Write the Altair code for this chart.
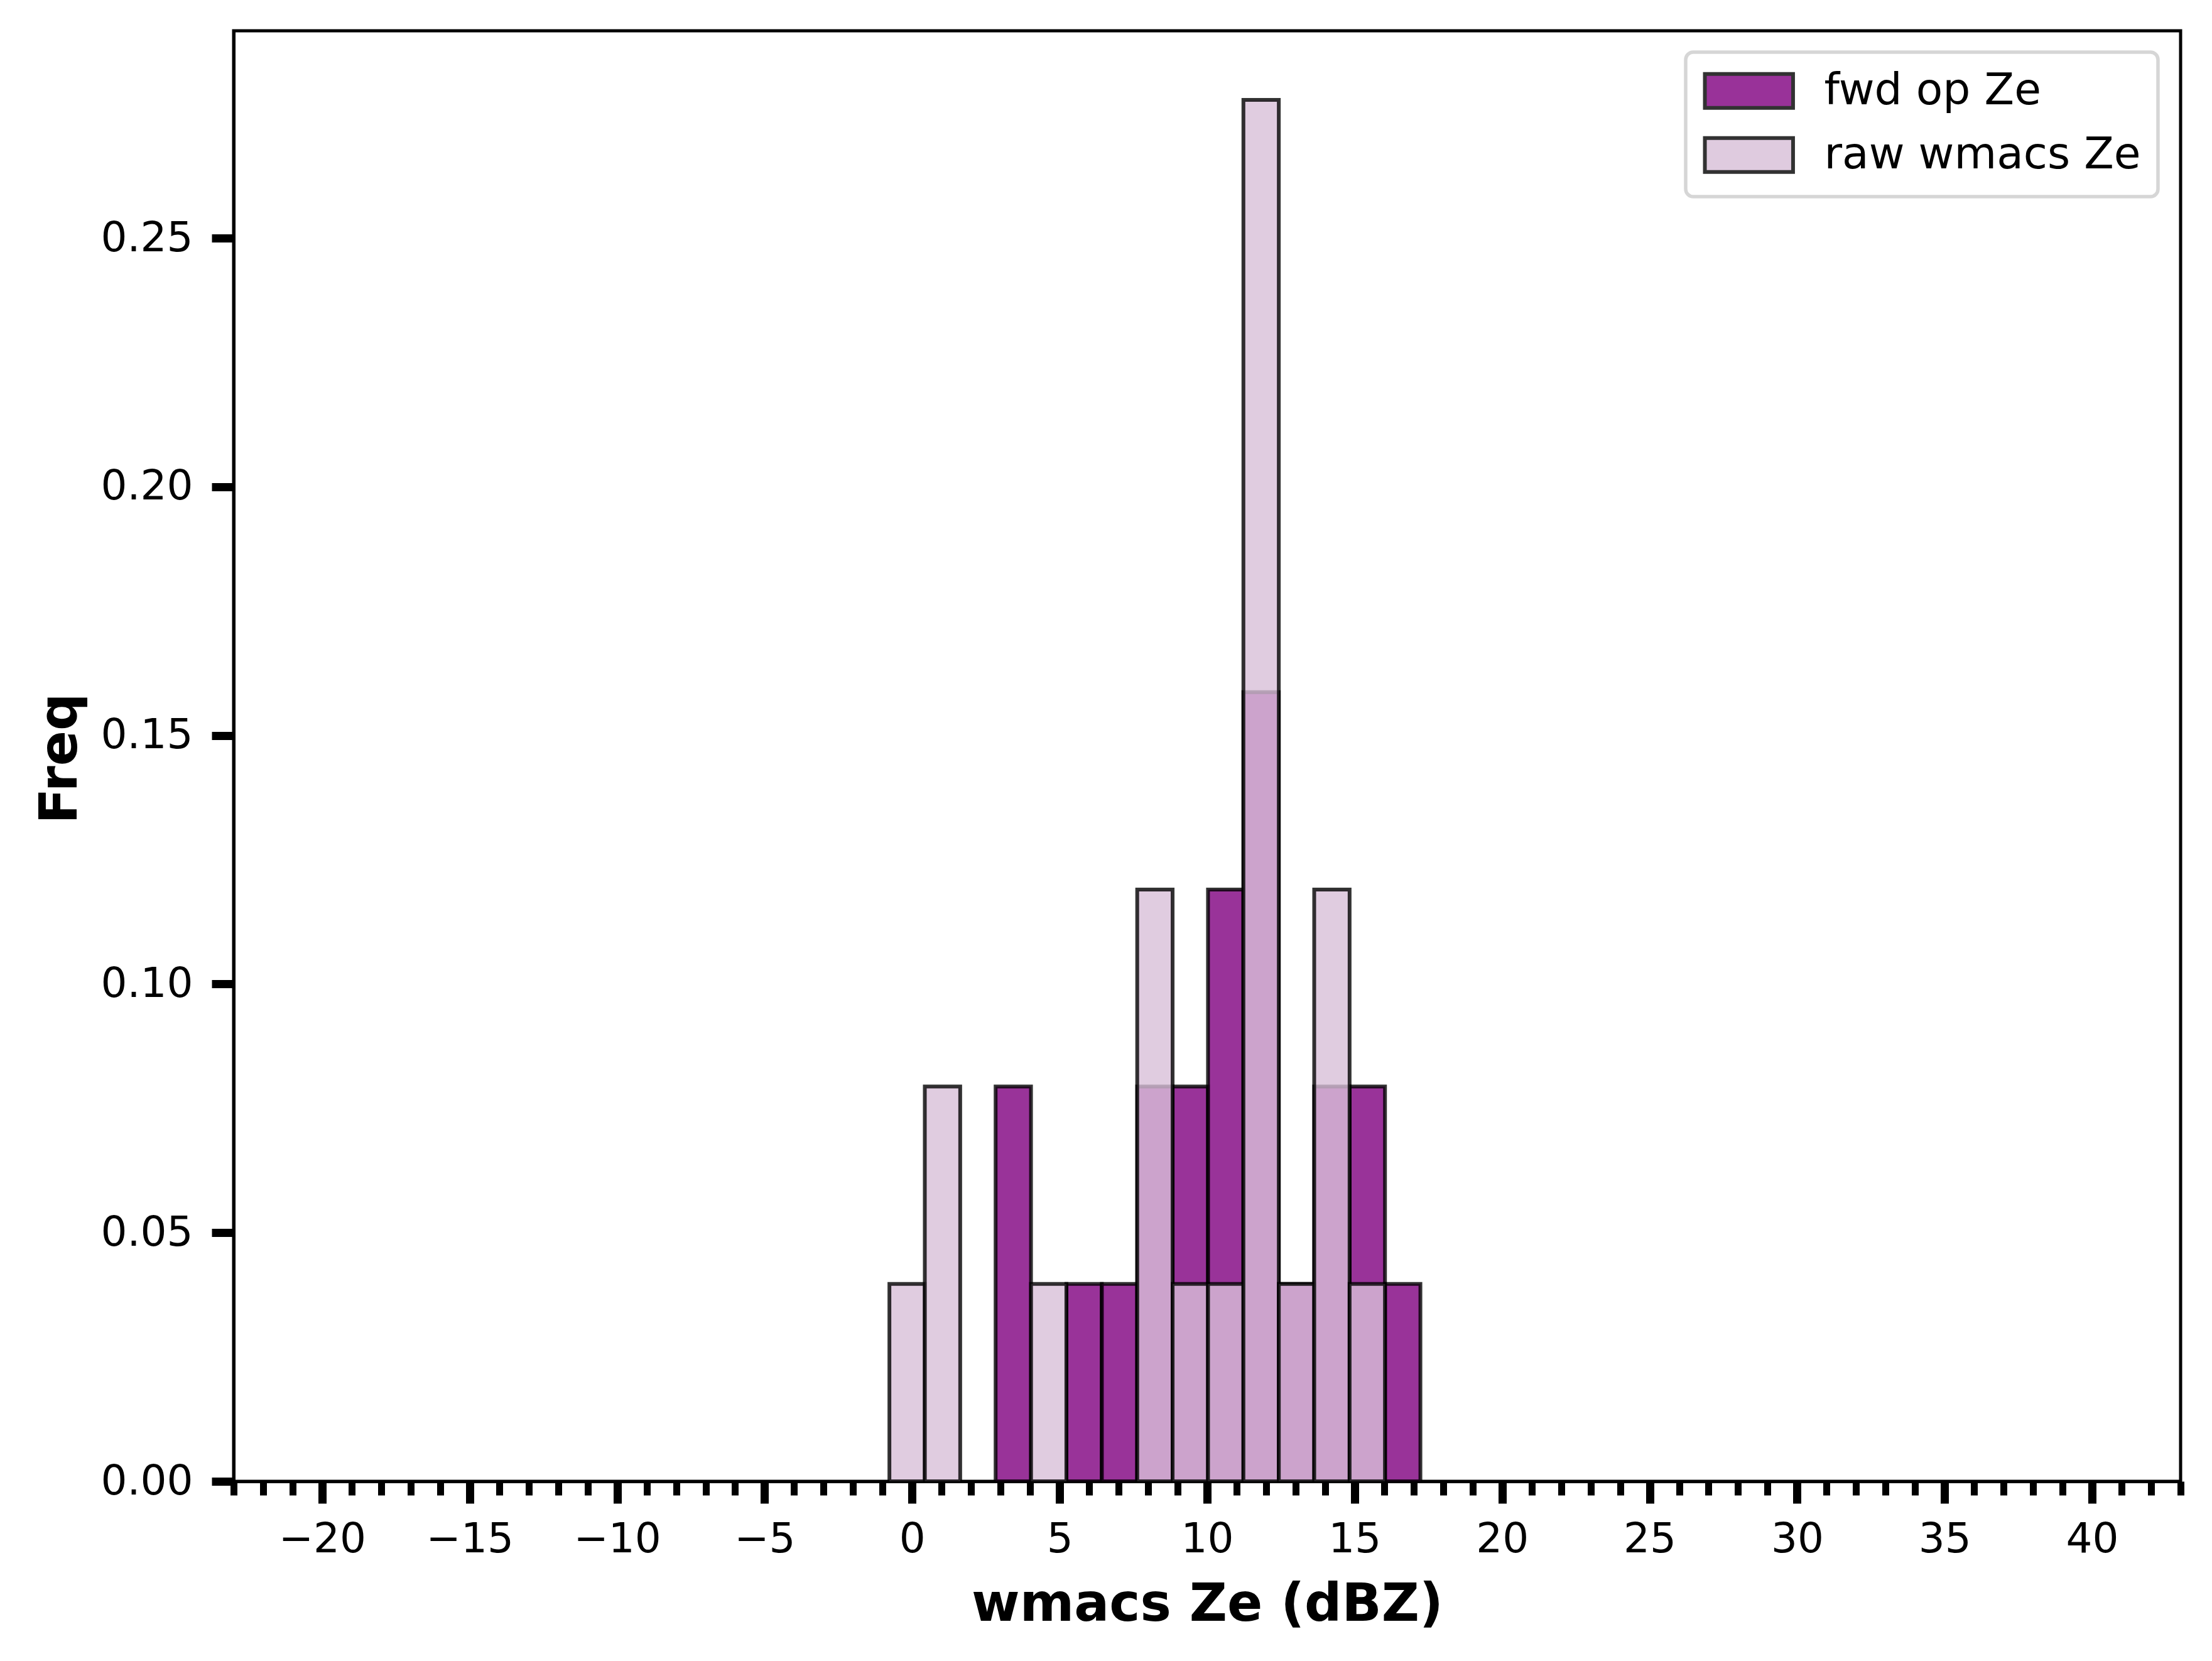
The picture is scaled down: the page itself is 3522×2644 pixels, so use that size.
import altair as alt
import pandas as pd

# ---- data (density histogram, 15 bins) ----
bin_edges = [-0.77, 0.43, 1.63, 2.83, 4.03, 5.23, 6.43, 7.63, 8.83,
             10.03, 11.23, 12.43, 13.63, 14.83, 16.03, 17.23]
fwd_freq = [0.0, 0.0, 0.0, 0.0794, 0.0, 0.0397, 0.0397, 0.0794, 0.0794,
            0.1190, 0.1587, 0.0397, 0.0794, 0.0794, 0.0397]
raw_freq = [0.0397, 0.0794, 0.0, 0.0, 0.0397, 0.0, 0.0, 0.1190, 0.0397,
            0.0397, 0.2778, 0.0397, 0.1190, 0.0397, 0.0]
series_names = ["fwd op Ze", "raw wmacs Ze"]
series_colors = ["#800080", "#D8BFD8"]
x_major_ticks = [-20, -15, -10, -5, 0, 5, 10, 15, 20, 25, 30, 35, 40]
x_minor_ticks = list(range(-23, 44))
y_ticks = [0.0, 0.05, 0.10, 0.15, 0.20, 0.25]
x_domain = [-23, 43]
y_domain = [0, 0.2917]


def rows(freqs, name):
    out = []
    for i, f in enumerate(freqs):
        if f > 0:
            out.append({"x0": bin_edges[i], "x1": bin_edges[i + 1],
                        "freq": f, "series": name})
    return out


fwd_df = pd.DataFrame(rows(fwd_freq, series_names[0]))
raw_df = pd.DataFrame(rows(raw_freq, series_names[1]))
minor_df = pd.DataFrame({"v": x_minor_ticks})

FONT = "DejaVu Sans"
xscale = alt.Scale(domain=x_domain, nice=False, zero=False)
yscale = alt.Scale(domain=y_domain, nice=False)
color_scale = alt.Scale(domain=series_names, range=series_colors)

x_axis = alt.Axis(values=x_major_ticks, format="d", tickSize=35, tickWidth=13,
                  tickColor="black", labelFontSize=66, labelColor="black",
                  labelPadding=25, labelFlush=False, labelOverlap=False,
                  domainColor="black", domainWidth=5, grid=False,
                  title="wmacs Ze (dBZ)", titleFontSize=83, titleFontWeight="bold",
                  titleColor="black", titleY=196, titleBaseline="middle",
                  orient="bottom")
y_axis = alt.Axis(values=y_ticks, format=".2f", tickSize=35, tickWidth=13,
                  tickColor="black", labelFontSize=66, labelColor="black",
                  labelPadding=30, domainColor="black", domainWidth=5, grid=False,
                  title="Freq", titleFontSize=83, titleFontWeight="bold",
                  titleColor="black", titleX=-276, titleY=1158,
                  titleBaseline="middle")

legend = alt.Legend(title=None, orient="none", legendX=2312, legendY=34,
                    symbolType="M-2.6,-1H2.6V1H-2.6Z", symbolSize=2916,
                    symbolOffset=39, symbolStrokeColor="black",
                    symbolStrokeWidth=6, symbolOpacity=0.8,
                    labelFontSize=69.5, labelColor="black", labelOffset=85,
                    rowPadding=23, padding=27, fillColor="white",
                    strokeColor="#d6d6d6", cornerRadius=12,
                    labelLimit=1000)

bar_kw = dict(stroke="black", strokeWidth=6, strokeOpacity=0.8, fillOpacity=0.8)

fwd = alt.Chart(fwd_df).mark_rect(**bar_kw).encode(
    x=alt.X("x0:Q", scale=xscale, axis=x_axis),
    x2="x1:Q",
    y=alt.Y("freq:Q", scale=yscale, axis=y_axis),
    y2=alt.datum(0),
    color=alt.Color("series:N", scale=color_scale, legend=legend),
)

raw = alt.Chart(raw_df).mark_rect(**bar_kw).encode(
    x=alt.X("x0:Q", scale=xscale, axis=None),
    x2="x1:Q",
    y=alt.Y("freq:Q", scale=yscale),
    y2=alt.datum(0),
    color=alt.Color("series:N", scale=color_scale, legend=legend),
)

minor = alt.Chart(minor_df).mark_point(opacity=0).encode(
    x=alt.X("v:Q", scale=xscale,
            axis=alt.Axis(values=x_minor_ticks, labels=False, domain=False,
                          tickSize=22, tickWidth=11, tickColor="black",
                          grid=False, title=None, orient="bottom")),
)

chart = alt.layer(fwd, raw, minor).resolve_axis(x="independent").properties(
    width=3100, height=2309,
    autosize=alt.AutoSizeParams(type="none"),
    padding={"left": 364, "top": 41, "right": 40, "bottom": 276},
).configure(font=FONT).configure_view(stroke="black", strokeWidth=5
).configure_legend(strokeWidth=5.5)

chart.save("out.html", embed_options={"renderer": "svg", "actions": False})
